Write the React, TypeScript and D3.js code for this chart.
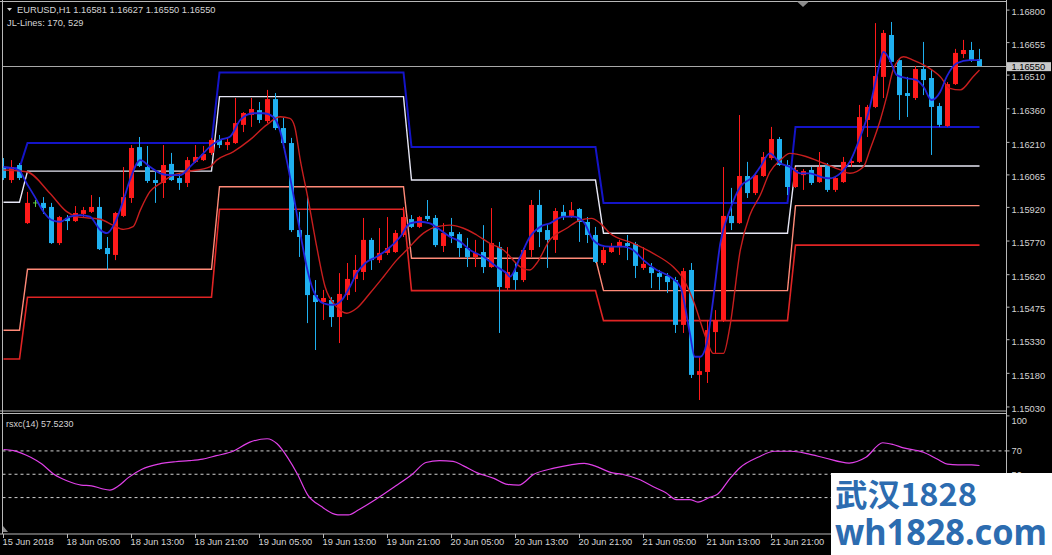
import React from "react";
import * as d3 from "d3";

// ---------- DATA ----------
const barOpen = [1.16096,1.16042,1.16109,1.15850,1.15940,1.15940,1.15922,1.15761,1.15873,1.15859,1.15891,1.15900,1.15922,1.15739,1.15708,1.15882,1.15962,1.16189,1.16100,1.16042,1.16029,1.16114,1.16051,1.16029,1.16123,1.16131,1.16163,1.16221,1.16198,1.16207,1.16288,1.16332,1.16354,1.16305,1.16403,1.16274,1.16207,1.15819,1.15797,1.15529,1.15498,1.15507,1.15431,1.15529,1.15601,1.15632,1.15775,1.15685,1.15717,1.15721,1.15797,1.15868,1.15833,1.15882,1.15873,1.15748,1.15810,1.15801,1.15739,1.15699,1.15721,1.15654,1.15743,1.15560,1.15632,1.15596,1.15730,1.15931,1.15819,1.15775,1.15900,1.15882,1.15913,1.15855,1.15797,1.15672,1.15721,1.15743,1.15761,1.15757,1.15650,1.15654,1.15627,1.15614,1.15596,1.15396,1.15641,1.15173,1.15186,1.15364,1.15418,1.15882,1.15850,1.16060,1.15984,1.16060,1.16140,1.16225,1.16109,1.16011,1.16064,1.16087,1.16033,1.16109,1.15998,1.16033,1.16118,1.16123,1.16310,1.16368,1.16502,1.16689,1.16577,1.16430,1.16408,1.16537,1.16497,1.16372,1.16283,1.16470,1.16604,1.16622,1.16581];
const barHigh = [1.16140,1.16131,1.16118,1.15989,1.15953,1.15966,1.15940,1.15882,1.15886,1.15926,1.15922,1.15975,1.15966,1.15788,1.15900,1.16100,1.16198,1.16234,1.16194,1.16078,1.16198,1.16163,1.16073,1.16145,1.16198,1.16194,1.16230,1.16243,1.16234,1.16408,1.16345,1.16408,1.16390,1.16444,1.16430,1.16319,1.16230,1.15900,1.15966,1.15596,1.15552,1.15520,1.15627,1.15672,1.15708,1.15873,1.15784,1.15828,1.15877,1.15819,1.15922,1.15886,1.15882,1.15953,1.15886,1.15850,1.15873,1.15810,1.15784,1.15775,1.15841,1.15917,1.15766,1.15743,1.15672,1.15739,1.15953,1.15998,1.15841,1.15917,1.15931,1.15944,1.15917,1.15877,1.15833,1.15743,1.15761,1.15775,1.15797,1.15766,1.15743,1.15672,1.15641,1.15627,1.15610,1.15650,1.15672,1.15253,1.15418,1.15462,1.16100,1.16007,1.16332,1.16123,1.16073,1.16167,1.16279,1.16234,1.16131,1.16100,1.16091,1.16100,1.16167,1.16118,1.16056,1.16145,1.16145,1.16377,1.16377,1.16742,1.16711,1.16747,1.16586,1.16502,1.16551,1.16658,1.16533,1.16386,1.16479,1.16627,1.16667,1.16658,1.16627];
const barLow = [1.16042,1.16029,1.16042,1.15846,1.15922,1.15891,1.15757,1.15752,1.15819,1.15855,1.15877,1.15895,1.15730,1.15641,1.15685,1.15877,1.15940,1.16100,1.16029,1.15940,1.15962,1.16038,1.15998,1.16011,1.16118,1.16127,1.16154,1.16185,1.16176,1.16203,1.16256,1.16279,1.16296,1.16296,1.16265,1.16185,1.15810,1.15699,1.15404,1.15284,1.15418,1.15387,1.15315,1.15507,1.15543,1.15596,1.15641,1.15672,1.15708,1.15717,1.15788,1.15828,1.15828,1.15859,1.15743,1.15721,1.15761,1.15699,1.15654,1.15654,1.15627,1.15650,1.15360,1.15552,1.15552,1.15587,1.15699,1.15743,1.15650,1.15717,1.15864,1.15873,1.15766,1.15761,1.15672,1.15663,1.15717,1.15708,1.15685,1.15605,1.15641,1.15560,1.15552,1.15538,1.15360,1.15360,1.15159,1.15061,1.15137,1.15271,1.15409,1.15819,1.15846,1.15962,1.15975,1.16056,1.16131,1.16105,1.15975,1.16007,1.15998,1.16020,1.16029,1.15989,1.15989,1.16029,1.16100,1.16118,1.16234,1.16363,1.16408,1.16564,1.16310,1.16323,1.16399,1.16421,1.16154,1.16279,1.16279,1.16466,1.16586,1.16569,1.16550];
const barClose = [1.16051,1.16100,1.16051,1.15940,1.15940,1.15917,1.15761,1.15877,1.15859,1.15895,1.15908,1.15922,1.15734,1.15712,1.15895,1.15966,1.16185,1.16105,1.16038,1.16029,1.16109,1.16042,1.16029,1.16131,1.16145,1.16158,1.16221,1.16198,1.16212,1.16296,1.16341,1.16359,1.16310,1.16403,1.16274,1.16207,1.15819,1.15788,1.15529,1.15498,1.15516,1.15431,1.15534,1.15601,1.15641,1.15775,1.15685,1.15717,1.15739,1.15806,1.15877,1.15833,1.15877,1.15868,1.15752,1.15806,1.15792,1.15739,1.15699,1.15717,1.15654,1.15761,1.15565,1.15632,1.15596,1.15730,1.15931,1.15810,1.15775,1.15904,1.15877,1.15908,1.15855,1.15797,1.15677,1.15730,1.15748,1.15766,1.15748,1.15659,1.15668,1.15627,1.15610,1.15587,1.15396,1.15636,1.15173,1.15190,1.15373,1.15418,1.15882,1.15850,1.16060,1.15984,1.16064,1.16145,1.16225,1.16109,1.16011,1.16087,1.16082,1.16029,1.16100,1.15998,1.16051,1.16123,1.16127,1.16323,1.16368,1.16506,1.16698,1.16569,1.16421,1.16417,1.16537,1.16488,1.16368,1.16288,1.16470,1.16609,1.16622,1.16577,1.16550];

// JL-lines: level per trading day (day starts at bar index)
const dayStartBars = [0, 3, 27, 51, 75, 99];
const jlBlue = [1.16096, 1.16207, 1.16522, 1.16189, 1.15940, 1.16279];
const jlWhite = [1.15943, 1.16082, 1.16414, 1.16042, 1.15805, 1.16105];
const jlSalmon = [1.15372, 1.15644, 1.16012, 1.15693, 1.15549, 1.15928];
const jlRed = [1.15244, 1.15519, 1.15912, 1.15549, 1.15415, 1.15752];

// fast (blue) moving line, read at bar positions
const fastBars = [0,1.9,2.9,3.9,5,6,7.1,8.3,9.6,10.8,12.1,12.9,13.9,15,15.8,17.1,18.3,19.6,20.8,22.1,23.3,24.6,25.8,27.1,28.3,29.6,31.2,32.5,33.7,34.6,35.4,36.2,37.1,37.9,38.7,40,41.2,42.3,43.3,44.15,45.2,46.65,47.9,49.6,50.8,52.1,53.3,54.6,55.8,57.1,58.3,60,61.65,62.9,63.3,64.6,65.8,67.1,68.3,70,71.2,72.5,73.7,74.6,75.8,77.5,78.7,80,81.65,83.3,84.6,85.8,86.4,87.1,87.9,88.7,89.6,90.8,92.1,93.7,94.6,95.8,97.1,98.3,99.6,100.8,102.1,103.3,104.6,105.8,107.1,108.1,109.15,110,110.8,111.65,112.9,114.15,115,116,117.1,117.9,119.15,120.8,122];
const fastValues = [1.16101,1.16087,1.16027,1.15968,1.15901,1.15864,1.15856,1.15879,1.15886,1.15879,1.15819,1.15805,1.15849,1.15953,1.16042,1.16131,1.16101,1.16072,1.16064,1.16064,1.16101,1.16146,1.16191,1.16221,1.16235,1.16310,1.16340,1.16340,1.16324,1.16258,1.16131,1.15983,1.15805,1.15655,1.15552,1.15492,1.15485,1.15507,1.15566,1.15626,1.15671,1.15700,1.15730,1.15789,1.15849,1.15856,1.15849,1.15819,1.15789,1.15767,1.15730,1.15700,1.15655,1.15626,1.15611,1.15700,1.15789,1.15834,1.15849,1.15879,1.15879,1.15856,1.15775,1.15752,1.15745,1.15745,1.15730,1.15685,1.15641,1.15611,1.15566,1.15358,1.15254,1.15254,1.15314,1.15507,1.15760,1.15908,1.16012,1.16057,1.16101,1.16161,1.16117,1.16101,1.16072,1.16072,1.16057,1.16050,1.16072,1.16124,1.16235,1.16340,1.16503,1.16614,1.16577,1.16511,1.16496,1.16488,1.16458,1.16399,1.16436,1.16503,1.16563,1.16577,1.16577];

// slow (red) moving line
const slowBars = [0,2.9,5.8,7.9,9.15,12.1,13.7,15,16.2,17.1,18.3,19.6,21.2,22.9,25.8,26.65,28.7,30.8,32.9,34.6,35.8,36.4,37.1,38.1,39.15,40.2,41.65,42.9,44.15,45.8,47.5,49.15,50.4,52.5,54.15,55.8,57.5,59.15,60.8,62.5,64.6,65.8,66.65,68.3,70.4,72.1,73.5,74.6,75.8,78.7,81.2,83.7,84.8,86.2,87.9,88.7,90,90.8,92.1,93.3,94.6,95.8,97.1,98.3,100.4,102.5,104.6,105.8,107.5,108.3,109.6,110.4,111.2,112.5,113.7,115.4,117.1,118.3,119.6,121.2,122];
const slowValues = [1.16087,1.16079,1.15983,1.15901,1.15879,1.15867,1.15841,1.15822,1.15834,1.15908,1.15990,1.16027,1.16064,1.16079,1.16101,1.16131,1.16168,1.16221,1.16288,1.16324,1.16317,1.16280,1.16131,1.15953,1.15745,1.15566,1.15477,1.15448,1.15470,1.15537,1.15611,1.15685,1.15730,1.15805,1.15834,1.15841,1.15827,1.15797,1.15760,1.15730,1.15655,1.15641,1.15671,1.15775,1.15827,1.15864,1.15871,1.15849,1.15805,1.15760,1.15715,1.15655,1.15611,1.15507,1.15329,1.15269,1.15269,1.15388,1.15730,1.15886,1.15975,1.16078,1.16131,1.16161,1.16146,1.16117,1.16087,1.16072,1.16101,1.16176,1.16310,1.16414,1.16533,1.16592,1.16577,1.16548,1.16503,1.16451,1.16444,1.16503,1.16533];

// rsxc(14)
const rsxBars = [0,1.25,3.4,4.8,6.3,8,9.7,11,12.2,13.3,14.35,15.6,17.3,19.4,21.5,23.2,24.9,26.6,28.7,30.8,32.95,34.2,35.5,36.75,38,39.7,41.8,43.1,44.4,46.5,49,51.1,52.8,54.5,56.2,57.5,59.15,61.3,63,64.4,66.3,68.8,70.9,72.6,73.9,76,77.3,79.4,81.5,82.8,84.1,85.8,86.8,88.3,89.2,90.9,92.1,94.3,96.4,98.5,100.6,102.7,105.7,107.8,109.9,111.2,112.5,115,116.7,118,119.3,121,122];
const rsxValues = [71.2,70.3,64.5,58.7,50,44.2,40.7,40.1,37.8,36.4,39.9,47.1,54.3,58.7,60.7,61.6,63,65.9,69.7,77.5,80.4,76.1,64.5,50,32.6,22.5,15.2,15.2,19.6,28.3,39.9,50,60.1,61.6,61,57.2,51.4,46.5,41.3,40.6,50,55.2,58.1,59.3,57.2,51.4,50,45.7,38.4,34.1,28.3,28.3,26.2,30.3,32.6,47.1,55.8,64.5,69.7,69.7,67.4,63.9,59.6,64.5,77,75.5,72.6,68.8,63,58.7,58.1,58.1,57.5];

const priceTickLabels = ["1.16800","1.16655","1.16510","1.16360","1.16210","1.16065","1.15920","1.15770","1.15620","1.15475","1.15330","1.15180","1.15030"];
const rsxLevels = [70, 50, 30];
const rsxTickLabels = [100, 70, 50];
const timeTickBars = [0, 8, 16, 24, 32, 40, 48, 56, 64, 72, 80, 88, 96];
const timeTickLabels = ["15 Jun 2018","18 Jun 05:00","18 Jun 13:00","18 Jun 21:00","19 Jun 05:00","19 Jun 13:00","19 Jun 21:00","20 Jun 05:00","20 Jun 13:00","20 Jun 21:00","21 Jun 05:00","21 Jun 13:00","21 Jun 21:00"];
const headerText = "EURUSD,H1  1.16581 1.16627 1.16550 1.16550";
const jlText = "JL-Lines: 170, 529";
const rsxTitle = "rsxc(14) 57.5230";
const lastPrice = 1.1655;
const lastPriceLabel = "1.16550";
const watermark1 = "武汉1828";
const watermark2 = "wh1828.com";

// ---------- CHART ----------
const W = 1052;
const H = 555;
const FONT = "'Liberation Sans', Arial, sans-serif";
const TXT = "#d4d4d4";
const FRAME = "#b8b8b8";
const BULL = "#ff1a1a";
const BEAR = "#1fb0f0";
const DOJI = "#5fd040";

export default function App() {
  const mainLeft = 2.5, mainRight = 1006.5, mainTop = 1, mainBottom = 411;
  const subTop = 413.5, axisY = 534;

  const x = d3.scaleLinear().domain([0, 122]).range([3.5, 979.5]);
  const y = d3.scaleLinear().domain([1.15012, 1.16845]).range([411, 0]);
  const ry = d3.scaleLinear().domain([0, 100]).range([532.6, 415.9]);

  const bars = barOpen.map((_, i) => i);
  const dayOf = (i: number) => {
    let d = 0;
    dayStartBars.forEach((s, k) => { if (i >= s) d = k; });
    return d;
  };
  const stepLine = (levels: number[]) =>
    d3.line<number>().x((i) => x(i)).y((i) => y(levels[dayOf(i)]))(bars) || "";

  const curve = (bs: number[], vs: number[], ys: d3.ScaleLinear<number, number>) =>
    d3.line<number>().x((_, k) => x(bs[k])).y((_, k) => ys(vs[k])).curve(d3.curveMonotoneX)(vs) || "";

  return (
    <div style={{ position: "fixed", left: 0, top: 0, width: W, height: H, background: "#000" }}>
      <svg width={W} height={H} style={{ display: "block" }} fontFamily={FONT}>
        <rect x={0} y={0} width={W} height={H} fill="#000" />
        <defs>
          <clipPath id="mainClip">
            <rect x={mainLeft} y={mainTop} width={mainRight - mainLeft} height={mainBottom - mainTop} />
          </clipPath>
          <clipPath id="subClip">
            <rect x={mainLeft} y={subTop} width={mainRight - mainLeft} height={axisY - subTop} />
          </clipPath>
        </defs>

        {/* frames */}
        <line x1={0} x2={mainRight} y1={mainTop + 0.5} y2={mainTop + 0.5} stroke={FRAME} />
        <line x1={mainLeft} x2={mainLeft} y1={0} y2={axisY} stroke={FRAME} />
        <line x1={mainRight} x2={mainRight} y1={0} y2={axisY + 4} stroke={FRAME} />
        <line x1={0} x2={mainRight} y1={mainBottom} y2={mainBottom} stroke={FRAME} />
        <line x1={0} x2={mainRight} y1={subTop} y2={subTop} stroke={FRAME} />
        <line x1={0} x2={mainRight} y1={axisY} y2={axisY} stroke={FRAME} />

        {/* main chart */}
        <g clipPath="url(#mainClip)">
          <line x1={mainLeft} x2={mainRight} y1={Math.round(y(lastPrice)) + 0.5} y2={Math.round(y(lastPrice)) + 0.5} stroke="#a8a8a8" />
          <path d={stepLine(jlRed)} fill="none" stroke="#e02424" strokeWidth={1.6} />
          <path d={stepLine(jlSalmon)} fill="none" stroke="#ff8a78" strokeWidth={1.4} />
          <path d={stepLine(jlWhite)} fill="none" stroke="#e6e6f4" strokeWidth={1.4} />
          <path d={stepLine(jlBlue)} fill="none" stroke="#1414c8" strokeWidth={2} />
          {bars.map((i) => {
            const o = barOpen[i], c = barClose[i];
            const col = o === c ? DOJI : c > o ? BULL : BEAR;
            const cx = x(i);
            const top = y(Math.max(o, c));
            const bot = y(Math.min(o, c));
            return (
              <g key={i}>
                <line x1={cx} x2={cx} y1={y(barHigh[i])} y2={y(barLow[i])} stroke={col} strokeWidth={1} />
                {o === c ? (
                  <line x1={cx - 2.5} x2={cx + 2.5} y1={top} y2={top} stroke={col} strokeWidth={1} />
                ) : (
                  <rect x={cx - 2.5} y={top} width={5} height={Math.max(1, bot - top)} fill={col} />
                )}
              </g>
            );
          })}
          <path d={curve(slowBars, slowValues, y)} fill="none" stroke="#c81e1e" strokeWidth={1.4} />
          <path d={curve(fastBars, fastValues, y)} fill="none" stroke="#2222d8" strokeWidth={1.8} />
        </g>

        {/* header texts */}
        <path d="M7,8 L12,8 L9.5,11 Z" fill={TXT} />
        <text x={17} y={13} fontSize={9.3} fill={TXT}>{headerText}</text>
        <text x={7} y={26} fontSize={9.3} fill={TXT}>{jlText}</text>
        <path d="M797,1.5 L809,1.5 L803,7 Z" fill="#8c8c8c" />

        {/* price axis */}
        {priceTickLabels.map((t) => {
          const py = y(parseFloat(t));
          return (
            <g key={t}>
              <line x1={mainRight} x2={mainRight + 3} y1={py} y2={py} stroke={FRAME} />
              <text x={1011.5} y={py + 2} dy="0.35em" fontSize={9.3} fill={TXT}>{t}</text>
            </g>
          );
        })}
        <rect x={1007} y={y(lastPrice) - 4} width={44} height={9} fill="#c8c8c8" />
        <text x={1011.5} y={y(lastPrice) + 0.5} dy="0.35em" fontSize={9.3} fill="#000">{lastPriceLabel}</text>

        {/* RSX sub-window */}
        <g clipPath="url(#subClip)">
          {rsxLevels.map((v) => (
            <line key={v} x1={mainLeft} x2={mainRight} y1={ry(v)} y2={ry(v)} stroke="#d0d0d0" strokeDasharray="3,3" />
          ))}
          <path d={curve(rsxBars, rsxValues, ry)} fill="none" stroke="#e040e8" strokeWidth={1.2} />
        </g>
        <text x={6} y={427} fontSize={9} fill={TXT}>{rsxTitle}</text>
        <path d="M3,526 L3,532 L8,532 Z" fill="#8c8c8c" />
        {rsxTickLabels.map((v) => {
          const py = Math.max(ry(v), 420.5);
          return (
            <g key={v}>
              <line x1={mainRight} x2={mainRight + 3} y1={ry(v)} y2={ry(v)} stroke={FRAME} />
              <text x={1011.5} y={py} dy="0.35em" fontSize={9.3} fill={TXT}>{v}</text>
            </g>
          );
        })}

        {/* time axis */}
        {timeTickBars.map((b, k) => (
          <g key={b}>
            <line x1={x(b)} x2={x(b)} y1={axisY} y2={axisY + 4} stroke={FRAME} />
            <text x={x(b) - 1} y={545} fontSize={9.3} fill={TXT}>{timeTickLabels[k]}</text>
          </g>
        ))}

        {/* watermark */}
        <rect x={831} y={473} width={W - 831} height={H - 473} fill="#ffffff" />
        <text x={835} y={506} fontSize={31} fontWeight="bold" fill="#2c6cb0" textLength={142} lengthAdjust="spacingAndGlyphs"
          fontFamily="'Noto Sans CJK SC', sans-serif">{watermark1}</text>
        <text x={835} y={545} fontSize={35} fontWeight="bold" fill="#2c6cb0" textLength={212} lengthAdjust="spacingAndGlyphs"
          fontFamily="'Noto Sans', 'DejaVu Sans', sans-serif">{watermark2}</text>
      </svg>
    </div>
  );
}
